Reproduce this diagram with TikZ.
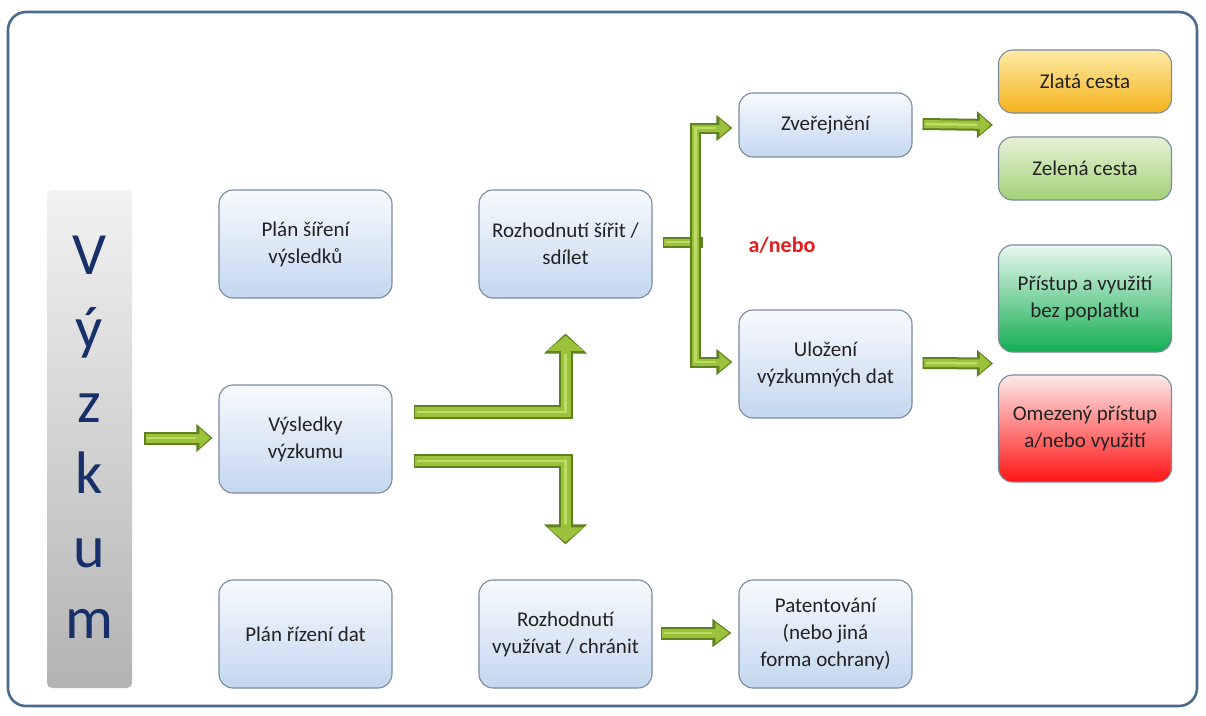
\documentclass[tikz,border=0pt]{standalone}
\usepackage{fontspec}
\setmainfont{Carlito}
\usetikzlibrary{arrows.meta,calc}
\definecolor{framec}{HTML}{4B6B8D}
\definecolor{boxborder}{HTML}{7A8AA0}
\definecolor{boxtop}{HTML}{F7FAFD}
\definecolor{boxbot}{HTML}{C4D7EF}
\definecolor{textc}{HTML}{222222}
\definecolor{bartop}{HTML}{F2F2F2}
\definecolor{barbot}{HTML}{B3B3B3}
\definecolor{navy}{HTML}{17306A}
\definecolor{goldtop}{HTML}{FDEBA6}
\definecolor{goldbot}{HTML}{F5B21A}
\definecolor{lgtop}{HTML}{E6F2D8}
\definecolor{lgbot}{HTML}{A3D176}
\definecolor{dgtop}{HTML}{EAF8EF}
\definecolor{dgbot}{HTML}{12AE52}
\definecolor{redtop}{HTML}{FDEAEA}
\definecolor{redbot}{HTML}{FF1414}
\definecolor{andor}{HTML}{E31C1C}
\definecolor{gdark}{HTML}{5F8220}
\definecolor{glight}{HTML}{9CC23C}
\definecolor{ghigh}{HTML}{BEDD66}
\newcommand\GA[4]{%
  \pgfmathsetmacro\gaa{#1-4}\pgfmathsetmacro\gab{#2-7}\pgfmathsetmacro\gac{#3-5}%
  \draw[draw=gdark,line width=#1pt,line join=miter,-{Triangle[width=#2pt,length=#3pt]}] #4;
  \draw[draw=glight,line width=\gaa pt,line join=miter,shorten >=2.2pt,shorten <=1.5pt,-{Triangle[width=\gab pt,length=\gac pt]}] #4;
  \draw[draw=ghigh,line width=2.5pt,line join=miter,shorten >=#3pt,shorten <=3pt] #4;
}
\newcommand\GB[4]{%
  \pgfmathsetmacro\gaa{#1-4}\pgfmathsetmacro\gab{#2-7}\pgfmathsetmacro\gac{#3-5}%
  \draw[draw=gdark,line width=#1pt,line join=miter,{Triangle[width=#2pt,length=#3pt]}-{Triangle[width=#2pt,length=#3pt]}] #4;
  \draw[draw=glight,line width=\gaa pt,line join=miter,shorten >=2.2pt,shorten <=2.2pt,{Triangle[width=\gab pt,length=\gac pt]}-{Triangle[width=\gab pt,length=\gac pt]}] #4;
  \draw[draw=ghigh,line width=2.5pt,line join=miter,shorten >=#3pt,shorten <=#3pt] #4;
}
\newcommand\GS[2]{%
  \pgfmathsetmacro\gaa{#1-4}%
  \draw[draw=gdark,line width=#1pt] #2;
  \draw[draw=glight,line width=\gaa pt,shorten >=1.5pt,shorten <=1.5pt] #2;
  \draw[draw=ghigh,line width=2.5pt,shorten >=3pt,shorten <=3pt] #2;
}
\begin{document}
\begin{tikzpicture}[x=1pt,y=-1pt,
  box/.style={rounded corners=14pt, draw=boxborder, line width=1.1pt,
    top color=boxtop, bottom color=boxbot, minimum width=173pt,
    minimum height=108pt, align=center, text=textc,
    font=\fontsize{21}{27}\selectfont, inner sep=2pt},
  smallbox/.style={box, minimum height=64pt},
  colbox/.style={box, minimum height=63pt},
  vletter/.style={text=navy, font=\fontsize{60}{64}\selectfont, inner sep=0pt, anchor=base}
]
\useasboundingbox (0,0) rectangle (1206,715);
\fill[white] (0,0) rectangle (1206,715);
\draw[framec, line width=2.6pt, rounded corners=18pt] (8,12) rectangle (1197,706);

% Vyzkum bar
\node[rounded corners=5pt, top color=bartop, bottom color=barbot, minimum width=85pt,
  minimum height=498pt, inner sep=0pt] (bar) at (89.5,439) {};
\foreach \l/\yy [count=\i] in {V/274,ý/348,z/422,k/493,u/567,m/638}
  \node[vletter] (v\i) at (89.5,\yy) {\l};

% Blue boxes
\node[box] (ps) at (305.5,244) {Plán šíření\\výsledků};
\node[box] (vv) at (305.5,439) {Výsledky\\výzkumu};
\node[box] (prd) at (305.5,634) {Plán řízení dat};
\node[box] (rs) at (565.5,244) {Rozhodnutí šířit /\\sdílet};
\node[box] (rv) at (565.5,634) {Rozhodnutí\\využívat / chránit};
\node[smallbox] (zv) at (825.5,125) {Zveřejnění};
\node[box] (ul) at (825.5,364) {Uložení\\výzkumných dat};
\node[box] (pat) at (825.5,634) {Patentování\\(nebo jiná\\forma ochrany)};

% Coloured boxes
\node[colbox, top color=goldtop, bottom color=goldbot] (zc) at (1085,81.5) {Zlatá cesta};
\node[colbox, top color=lgtop, bottom color=lgbot] (zel) at (1085,168.5) {Zelená cesta};
\node[box, minimum height=107pt, top color=dgtop, bottom color=dgbot] (pr) at (1085,298.5) {Přístup a využití\\bez poplatku};
\node[box, minimum height=107pt, top color=redtop, bottom color=redbot] (om) at (1085,428.5) {Omezený přístup\\a/nebo využití};

\node[text=andor, font=\bfseries\fontsize{22}{26}\selectfont, inner sep=0pt] (an) at (782,245) {a/nebo};

\coordinate (zmid) at ($(zc.south west)!0.5!(zel.north west)$);
\coordinate (pmid) at ($(pr.south west)!0.5!(om.north west)$);

% Arrows
\GA{13}{27}{16}{($(bar.east)+(12,-1)$) -- ($(vv.west)+(-6,-1)$)}
\GA{14}{42}{20}{($(vv.east)+(21,-27)$) -| ($(rs.south)+(0,35)$)}
\GA{14}{42}{20}{($(vv.east)+(21,22)$) -| ($(rv.north)+(0,-35)$)}
\GS{11}{($(rs.east)+(10,-2)$) -- ($(rs.east)+(50,-2)$)}
\GB{11}{25}{16}{($(zv.west)+(-6,3)$) -| ($(ul.west)+(-43,-2)$) -- ($(ul.west)+(-6,-2)$)}
\GA{12}{26}{16}{($(zv.east)+(10,-1)$) -- ($(zmid)+(-5,0)$)}
\GA{12}{26}{16}{($(ul.east)+(10,-1)$) -- ($(pmid)+(-5,0)$)}
\GA{13}{27}{19}{($(rv.east)+(8,-1)$) -- ($(pat.west)+(-7,-1)$)}
\end{tikzpicture}
\end{document}
